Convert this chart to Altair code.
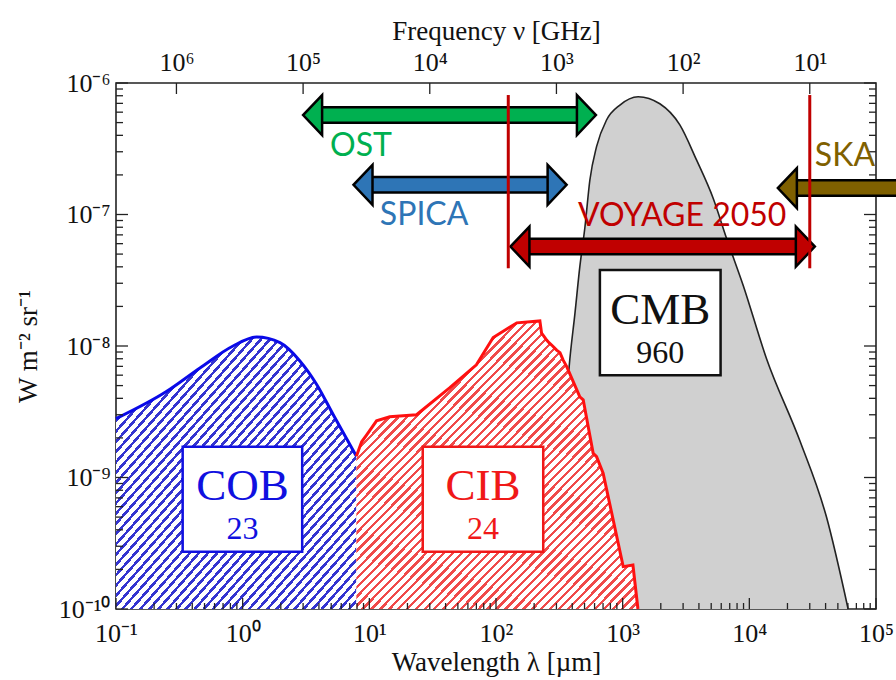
import altair as alt
import pandas as pd

# ---------------- data ----------------
# Cosmic Optical Background (COB)
cob_lam = [0.1, 0.25, 0.46, 0.84, 1.29, 1.97, 2.83, 3.84, 5.19, 7.9]
cob_val = [2.8e-9, 4.5e-9, 6.8e-9, 1.0e-8, 1.17e-8, 1.06e-8, 7.7e-9, 5.1e-9, 3.0e-9, 1.45e-9]

# Cosmic Infrared Background (CIB)
cib_lam = [7.9, 8.7, 9.5, 11.4, 14.5, 23.6, 43, 70, 95, 146, 222, 229, 240, 251, 262,
           280, 301, 320, 339, 361, 459, 488, 585, 622, 701, 1010, 1205, 1320]
cib_val = [1.45e-9, 1.87e-9, 2.1e-9, 2.7e-9, 2.9e-9, 3.0e-9, 4.8e-9, 7.2e-9, 1.16e-8, 1.5e-8,
           1.55e-8, 1.25e-8, 1.18e-8, 1.11e-8, 1.06e-8, 1.0e-8, 9.3e-9, 8.9e-9, 7.8e-9, 7.0e-9,
           4.1e-9, 3.9e-9, 1.53e-9, 1.44e-9, 1.08e-9, 2.1e-10, 2.16e-10, 1.0e-10]

# Cosmic Microwave Background (CMB)
cmb_lam = [280, 330, 378, 420, 459, 504, 551, 622, 746, 951, 1325, 1966, 2827, 3828, 5180,
           6607, 8933, 13670, 25060, 40660, 60240]
cmb_val = [1.0e-10, 1.0e-9, 6.96e-9, 1.77e-8, 4.01e-8, 8.07e-8, 1.83e-7, 3.28e-7, 5.23e-7,
           6.8e-7, 7.87e-7, 6.95e-7, 4.8e-7, 2.6e-7, 1.33e-7, 6.6e-8, 2.9e-8, 8.0e-9,
           1.9e-9, 5.0e-10, 1.0e-10]

# labelled boxes
box_title = ["COB", "CIB", "CMB"]
box_number = ["23", "24", "960"]
box_lam_lo = [0.336, 26.4, 661]
box_lam_hi = [2.95, 236, 5930]
box_val_lo = [2.73e-10, 2.73e-10, 6.0e-9]
box_val_hi = [1.71e-9, 1.71e-9, 3.78e-8]
box_color = ["#1010e0", "#f01818", "#111111"]

# instrument coverage arrows
arrow_name = ["OST", "SPICA", "VOYAGE 2050", "SKA"]
arrow_lam_lo = [3.0, 7.5, 130, 16800]
arrow_lam_hi = [615, 361, 32900, 2.0e5]
arrow_val = [5.7e-7, 1.68e-7, 5.7e-8, 1.59e-7]
arrow_left_head = [True, True, True, True]
arrow_right_head = [True, True, True, False]
arrow_color = ["#00B050", "#2E75B6", "#C00000", "#7F6000"]
label_lam = [4.9, 12.1, 443, 32900]
label_val = [3.3e-7, 9.9e-8, 9.7e-8, 2.8e-7]

# VOYAGE 2050 band limits
vline_lam = [125, 30000]
vline_lo = [3.9e-8, 3.9e-8]
vline_hi = [8.1e-7, 8.1e-7]

# axis ticks
x_major = [0.1, 1, 10, 100, 1e3, 1e4, 1e5]
x_minor = [m * 10.0 ** k for k in range(-1, 5) for m in range(2, 10)]
y_major = [1e-10, 1e-9, 1e-8, 1e-7, 1e-6]
y_minor = [m * 10.0 ** k for k in range(-10, -6) for m in range(2, 10)]
freq_major = [1e6, 1e5, 1e4, 1e3, 1e2, 1e1]

# ---------------- styling ----------------
SERIF = "Liberation Serif"
SANS = "Lato"


def sup_expr():
    e = "('' + round(log(datum.value) / LN10))"
    m = {'-': '⁻', '0': '⁰', '1': '¹', '2': '²', '3': '³', '4': '⁴',
         '5': '⁵', '6': '⁶', '7': '⁷', '8': '⁸', '9': '⁹'}
    for k, v in m.items():
        e = f"replace({e}, '{k}', '{v}')"
    return "'10' + " + e


xs = alt.Scale(type="log", domain=[0.1, 1e5], nice=False)
ys = alt.Scale(type="log", domain=[1e-10, 1e-6], nice=False)

xaxis = alt.Axis(values=x_major, labelExpr=sup_expr(), title="Wavelength λ [µm]",
                 orient="bottom", ticks=False, domain=False, grid=False, labelFlush=False,
                 labelFont=SERIF, labelFontSize=26, labelPadding=11, labelColor="#111",
                 titleFont=SERIF, titleFontSize=27, titleFontWeight="normal",
                 titlePadding=3, titleColor="#111")
yaxis = alt.Axis(values=y_major, labelExpr=sup_expr(), title="W m⁻² sr⁻¹",
                 ticks=False, domain=False, grid=False, labelFlush=False,
                 labelFont=SERIF, labelFontSize=26, labelPadding=6, labelColor="#111",
                 titleFont=SERIF, titleFontSize=27, titleFontWeight="normal",
                 titlePadding=16, titleColor="#111")
topaxis = alt.Axis(values=freq_major, labelExpr=sup_expr(), title="Frequency ν [GHz]",
                   orient="top", ticks=False, domain=False, grid=False, labelFlush=False,
                   labelFont=SERIF, labelFontSize=26, labelPadding=8, labelColor="#111",
                   titleFont=SERIF, titleFontSize=27, titleFontWeight="normal",
                   titlePadding=4, titleColor="#111")


def X(f):
    return alt.X(f, type="quantitative", scale=xs, axis=xaxis)


def Y(f):
    return alt.Y(f, type="quantitative", scale=ys, axis=yaxis)


def XD(v):
    return alt.XDatum(v, scale=xs, axis=xaxis)


def YD(v):
    return alt.YDatum(v, scale=ys, axis=yaxis)


def hatch(color, n, w=0.38):
    stops = []
    for i in range(n):
        a = i / n
        b = (i + w) / n
        c = 1.0 if i == n - 1 else (i + 1) / n
        stops += [alt.GradientStop(color=color, offset=a),
                  alt.GradientStop(color=color, offset=b),
                  alt.GradientStop(color="white", offset=b),
                  alt.GradientStop(color="white", offset=c)]
    return alt.LinearGradient(gradient="linear", stops=stops, x1=0, y1=0, x2=1, y2=1)


# ---------------- tables ----------------
cob = pd.DataFrame({"lam": cob_lam, "val": cob_val})
cib = pd.DataFrame({"lam": cib_lam, "val": cib_val})
cmb = pd.DataFrame({"lam": cmb_lam, "val": cmb_val})
boxes = pd.DataFrame({"title": box_title, "number": box_number, "x1": box_lam_lo,
                      "x2": box_lam_hi, "y1": box_val_lo, "y2": box_val_hi,
                      "color": box_color})
boxes["xc"] = (boxes["x1"] * boxes["x2"]) ** 0.5
boxes["yc"] = (boxes["y1"] * boxes["y2"]) ** 0.5
arrows = pd.DataFrame({"name": arrow_name, "lo": arrow_lam_lo, "hi": arrow_lam_hi,
                       "y": arrow_val, "color": arrow_color,
                       "lx": label_lam, "ly": label_val})
lheads = pd.DataFrame({"lam": [l for l, f in zip(arrow_lam_lo, arrow_left_head) if f],
                       "y": [v for v, f in zip(arrow_val, arrow_left_head) if f],
                       "color": [c for c, f in zip(arrow_color, arrow_left_head) if f]})
rheads = pd.DataFrame({"lam": [l for l, f in zip(arrow_lam_hi, arrow_right_head) if f],
                       "y": [v for v, f in zip(arrow_val, arrow_right_head) if f],
                       "color": [c for c, f in zip(arrow_color, arrow_right_head) if f]})
vlines = pd.DataFrame({"lam": vline_lam, "lo": vline_lo, "hi": vline_hi})

# ---------------- layers ----------------
cmb_area = alt.Chart(cmb).mark_area(color="#d0d0d0", opacity=1, interpolate="monotone").encode(
    x=X("lam"), y=Y("val"), y2=alt.Y2Datum(1e-10))
cmb_line = alt.Chart(cmb).mark_line(color="#222", strokeWidth=1.6, interpolate="monotone").encode(
    x=X("lam"), y=Y("val"))
cob_area = alt.Chart(cob).mark_area(fill=hatch("#3434d0", 53), opacity=1, interpolate="monotone").encode(
    x=X("lam"), y=Y("val"), y2=alt.Y2Datum(1e-10))
cib_area = alt.Chart(cib).mark_area(fill=hatch("#f04a4a", 63), opacity=1, interpolate="linear").encode(
    x=X("lam"), y=Y("val"), y2=alt.Y2Datum(1e-10))
cob_line = alt.Chart(cob).mark_line(color="#0a0ae8", strokeWidth=3, interpolate="monotone").encode(
    x=X("lam"), y=Y("val"))
cib_line = alt.Chart(cib).mark_line(color="#ff1010", strokeWidth=3, interpolate="linear").encode(
    x=X("lam"), y=Y("val"))

box_rect = alt.Chart(boxes).mark_rect(fill="white", strokeWidth=2.5).encode(
    x=X("x1"), x2=alt.X2("x2"), y=Y("y1"), y2=alt.Y2("y2"),
    stroke=alt.Stroke("color:N", scale=None))
box_t1 = alt.Chart(boxes).mark_text(font=SERIF, fontSize=45, baseline="middle", dy=-13).encode(
    x=X("xc"), y=Y("yc"), text="title:N", color=alt.Color("color:N", scale=None))
box_t2 = alt.Chart(boxes).mark_text(font=SERIF, fontSize=32, baseline="middle", dy=30).encode(
    x=X("xc"), y=Y("yc"), text="number:N", color=alt.Color("color:N", scale=None))

# inward ticks
tick_layers = []
for vals, L in ((x_major, 11), (x_minor, 6)):
    d = pd.DataFrame({"t": vals})
    tick_layers.append(alt.Chart(d).mark_rule(color="#222", strokeWidth=1.3, y2Offset=-L).encode(
        x=X("t"), y=YD(1e-10), y2=alt.Y2Datum(1e-10)))
for vals, L in ((y_major, 12), (y_minor, 7)):
    d = pd.DataFrame({"t": vals})
    tick_layers.append(alt.Chart(d).mark_rule(color="#222", strokeWidth=1.3, x2Offset=L).encode(
        y=Y("t"), x=XD(0.1), x2=alt.X2Datum(0.1)))
    tick_layers.append(alt.Chart(d).mark_rule(color="#222", strokeWidth=1.3, x2Offset=-L).encode(
        y=Y("t"), x=XD(1e5), x2=alt.X2Datum(1e5)))

shaft_black = alt.Chart(arrows).mark_rule(color="black", strokeWidth=18, xOffset=16, x2Offset=-16).encode(
    x=X("lo"), x2=alt.X2("hi"), y=Y("y"))
shaft_col = alt.Chart(arrows).mark_rule(strokeWidth=13, xOffset=16, x2Offset=-16).encode(
    x=X("lo"), x2=alt.X2("hi"), y=Y("y"), color=alt.Color("color:N", scale=None))
lhead = alt.Chart(lheads).mark_point(shape="M1.9,-2L0,0L1.9,2Z", size=400, filled=True, opacity=1,
                                     stroke="black", strokeWidth=2.5, strokeJoin="miter").encode(
    x=X("lam"), y=Y("y"), fill=alt.Fill("color:N", scale=None))
rhead = alt.Chart(rheads).mark_point(shape="M-1.9,-2L0,0L-1.9,2Z", size=400, filled=True, opacity=1,
                                     stroke="black", strokeWidth=2.5, strokeJoin="miter").encode(
    x=X("lam"), y=Y("y"), fill=alt.Fill("color:N", scale=None))
vline = alt.Chart(vlines).mark_rule(color="#C00000", strokeWidth=3).encode(
    x=X("lam"), y=Y("lo"), y2=alt.Y2("hi"))
labels = alt.Chart(arrows).mark_text(font=SANS, fontSize=32, align="left", baseline="middle").encode(
    x=X("lx"), y=Y("ly"), text="name:N", color=alt.Color("color:N", scale=None))

main = alt.layer(cmb_area, cmb_line, cob_area, cib_area, cob_line, cib_line,
                 box_rect, box_t1, box_t2, *tick_layers,
                 shaft_black, shaft_col, lhead, rhead, vline, labels)

top = alt.Chart(pd.DataFrame({"nu": freq_major})).mark_rule(
    color="#222", strokeWidth=1.3, y2Offset=11).encode(
    x=alt.X("nu:Q", scale=alt.Scale(type="log", domain=[3e6, 3], nice=False), axis=topaxis),
    y=YD(1e-6), y2=alt.Y2Datum(1e-6))

chart = alt.layer(main, top).resolve_scale(x="independent").properties(
    width=760, height=526,
    padding={"left": 116, "top": 83, "right": 20, "bottom": 71},
    autosize=alt.AutoSizeParams(type="none"),
).configure_view(stroke="#222", strokeWidth=1.6)

chart.save("out.html", embed_options={"renderer": "svg", "actions": False})
